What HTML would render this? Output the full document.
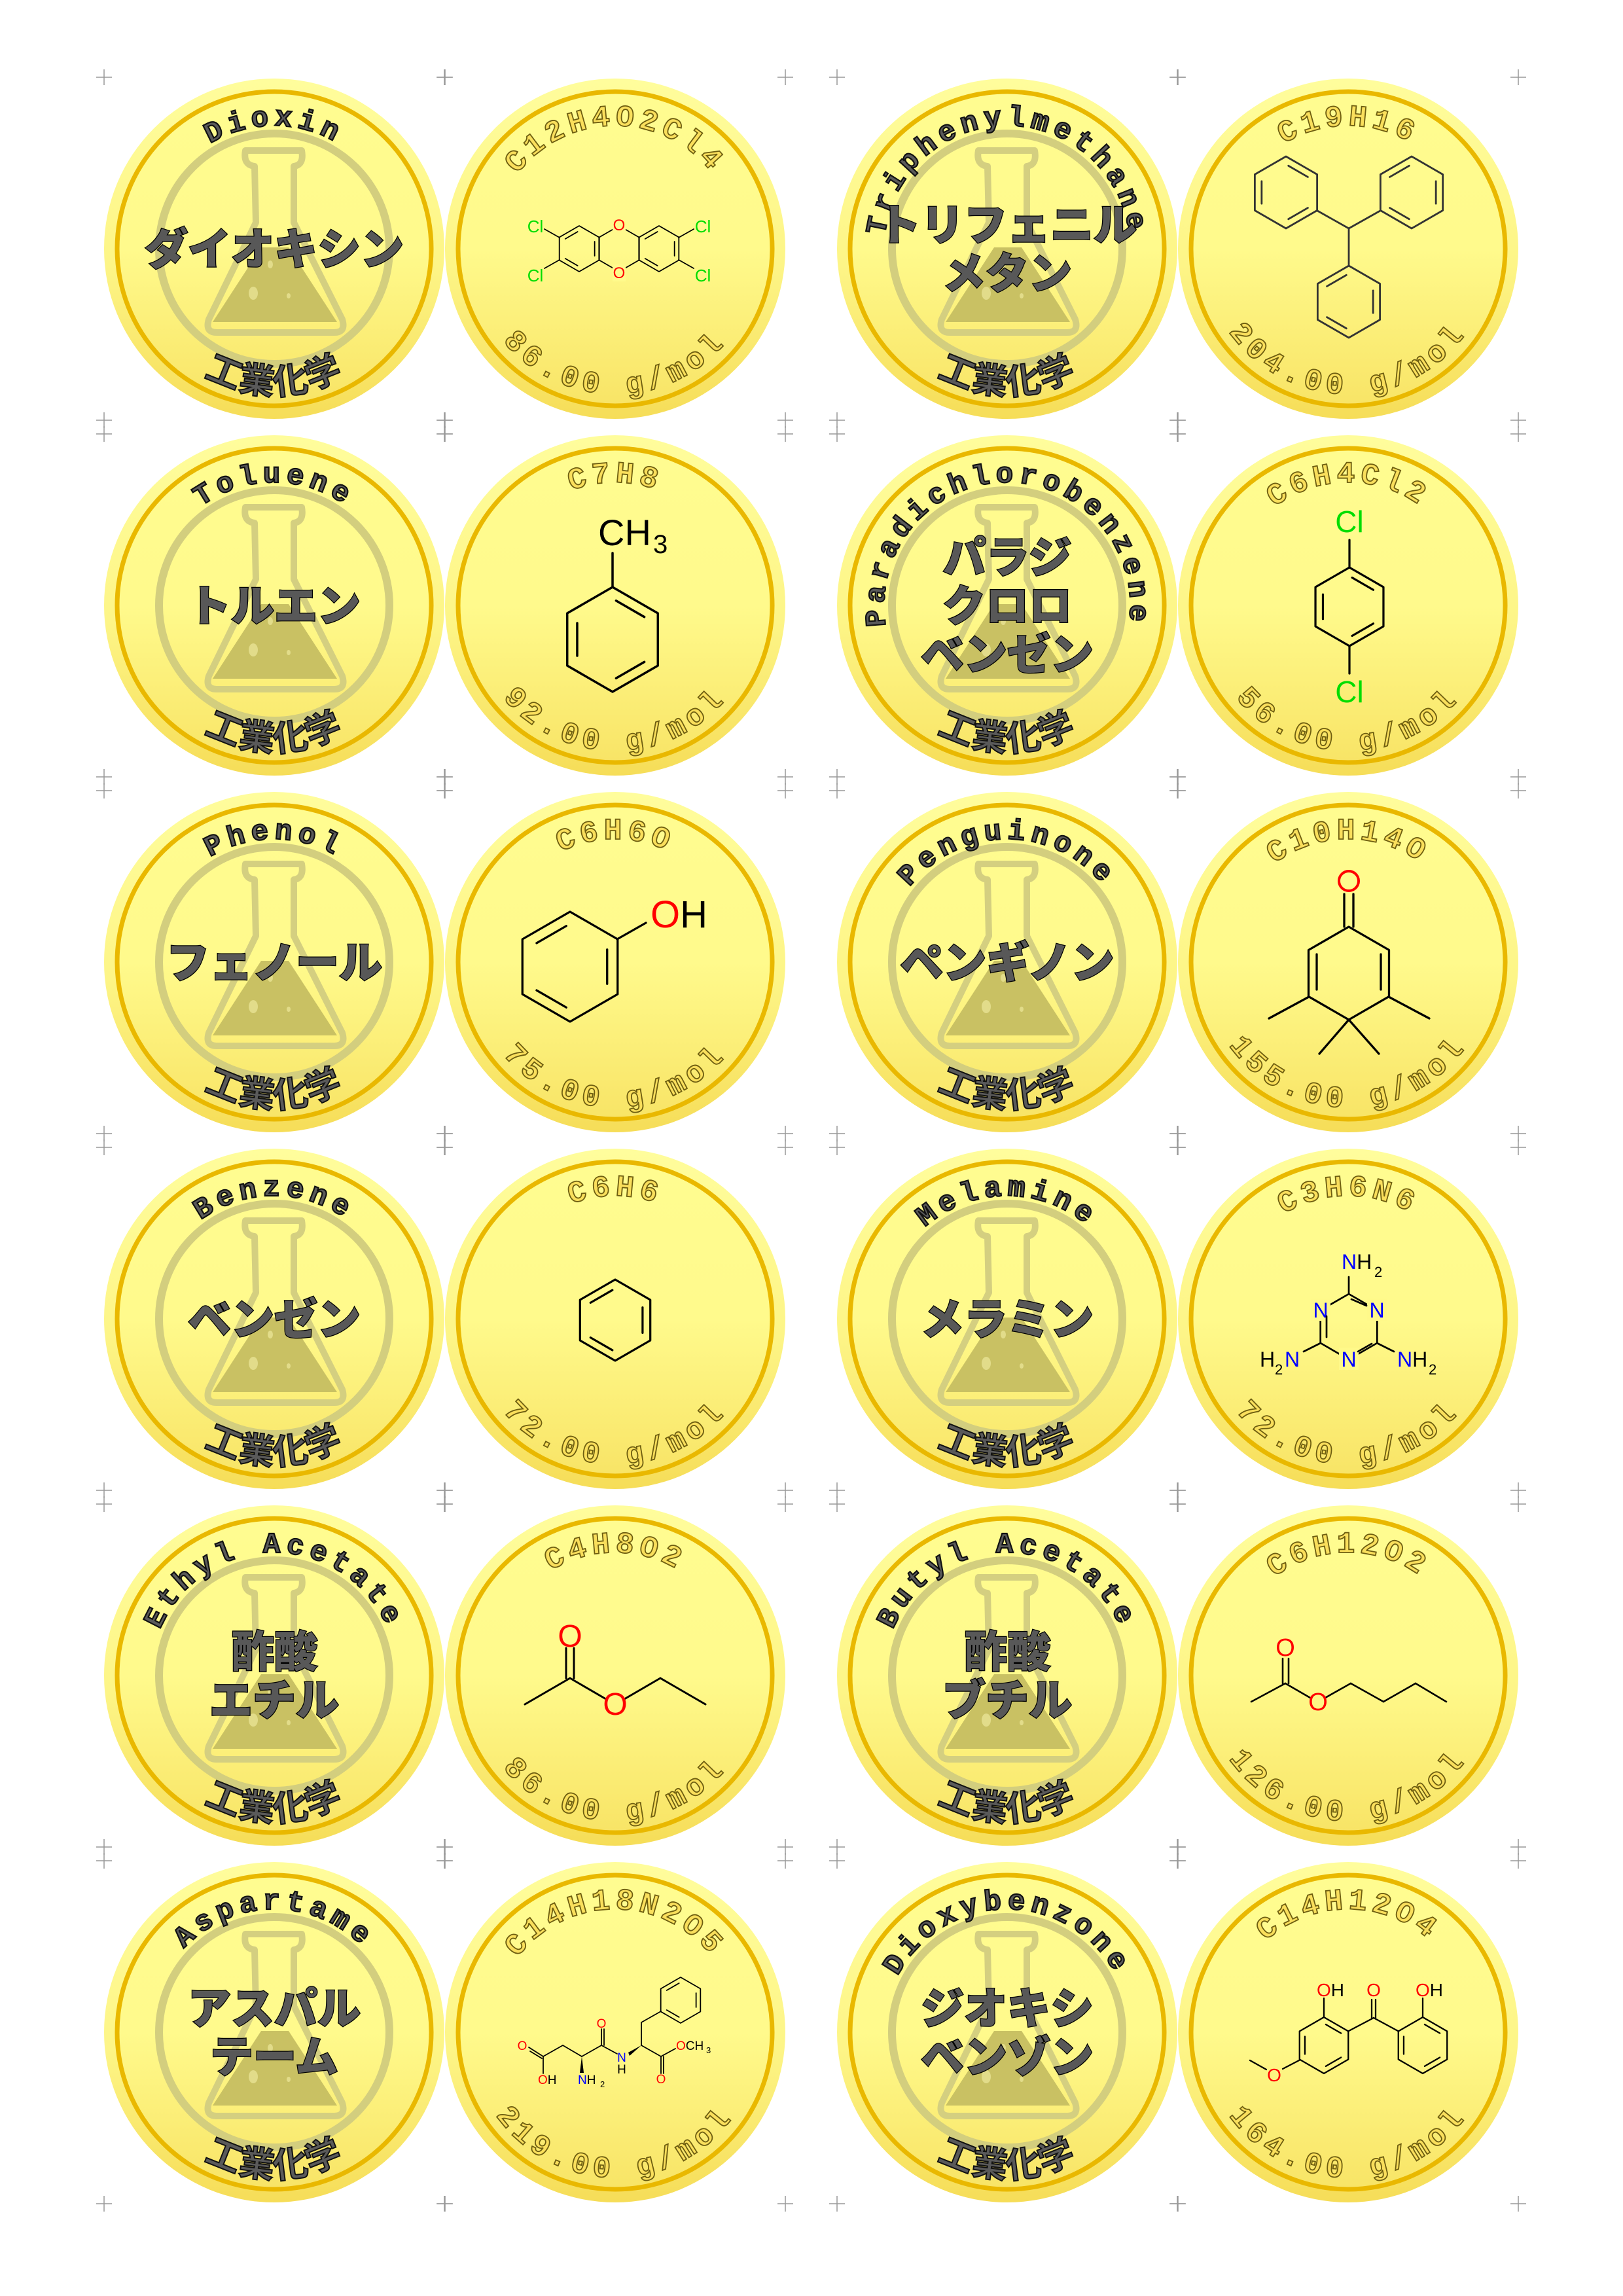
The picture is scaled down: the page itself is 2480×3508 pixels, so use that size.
<!DOCTYPE html>
<html><head><meta charset="utf-8"><style>
html,body{margin:0;padding:0;background:#fff;}
svg{display:block;}
</style></head><body>
<svg id="sheet" width="2480" height="3508" viewBox="0 0 2480 3508" xmlns="http://www.w3.org/2000/svg">
<defs>
<linearGradient id="gOuter" x1="0" y1="0" x2="0" y2="1"><stop offset="0" stop-color="#fffd9c"/><stop offset="0.55" stop-color="#fdf587"/><stop offset="1" stop-color="#f6dd58"/></linearGradient>
<linearGradient id="gInner" x1="0" y1="0" x2="0" y2="1"><stop offset="0" stop-color="#fffc90"/><stop offset="0.5" stop-color="#fffa8c"/><stop offset="1" stop-color="#f8e466"/></linearGradient>
</defs>
<g id="marks"></g>
<g id="coins"></g>
</svg>
<script>
const colX = [419, 940, 1539, 2060];
const rowY = [380, 925, 1470, 2015, 2560, 3105];
const names = ["Dioxin","Triphenylmethane","Toluene","Paradichlorobenzene","Phenol","Penguinone","Benzene","Melamine","Ethyl Acetate","Butyl Acetate","Aspartame","Dioxybenzone"];
const titles = [["ダイオキシン"],["トリフェニル","メタン"],["トルエン"],["パラジ","クロロ","ベンゼン"],["フェノール"],["ペンギノン"],["ベンゼン"],["メラミン"],["酢酸","エチル"],["酢酸","ブチル"],["アスパル","テーム"],["ジオキシ","ベンゾン"]];
const formulas = ["C12H4O2Cl4","C19H16","C7H8","C6H4Cl2","C6H6O","C10H14O","C6H6","C3H6N6","C4H8O2","C6H12O2","C14H18N2O5","C14H12O4"];
const masses = ["86.00","204.00","92.00","56.00","75.00","155.00","72.00","72.00","86.00","126.00","219.00","164.00"];

const R = 260;
let uid = 0;

function ln(x1,y1,x2,y2,w,c){return `<line x1="${x1}" y1="${y1}" x2="${x2}" y2="${y2}" stroke="${c||'#000'}" stroke-width="${w}" stroke-linecap="round"/>`;}
function hex(cx,cy,r,dbl,w,c){
  const v=[];for(let k=0;k<6;k++){const a=(-90+60*k)*Math.PI/180;v.push([cx+r*Math.cos(a),cy+r*Math.sin(a)]);}
  let s=`<polygon points="${v.map(p=>p.join(',')).join(' ')}" fill="none" stroke="${c||'#000'}" stroke-width="${w}" stroke-linejoin="round"/>`;
  (dbl||[]).forEach(k=>{const a=v[k],b=v[(k+1)%6];const f=0.78;
    const ax=cx+(a[0]-cx)*f,ay=cy+(a[1]-cy)*f,bx=cx+(b[0]-cx)*f,by=cy+(b[1]-cy)*f;
    const mx=(ax+bx)/2,my=(ay+by)/2,s2=0.8;
    s+=ln(mx+(ax-mx)*s2,my+(ay-my)*s2,mx+(bx-mx)*s2,my+(by-my)*s2,w,c);});
  return s;
}
function t(x,y,str,size,col,anchor){return `<text x="${x}" y="${y}" font-family="Liberation Sans, sans-serif" font-size="${size}" fill="${col||'#000'}" text-anchor="${anchor||'start'}">${str}</text>`;}

const mol = [
 ()=>{const w=1.8;let s=hex(6,0,35,[],w)+hex(-55,0,35,[1,3,5],w)+hex(67,0,35,[1,3,5],w);
   s+=`<rect x="-4" y="-50" width="20" height="26" fill="#fffa8c"/><rect x="-4" y="24" width="20" height="26" fill="#fffa8c"/>`;
   s+=t(6,-28,'O',24,'#f00','middle')+t(6,45,'O',24,'#f00','middle');
   s+=ln(-85,-17,-108,-30,w)+ln(-85,17,-108,30,w)+ln(97,-17,120,-30,w)+ln(97,17,120,30,w);
   s+=t(-122,-25,'Cl',26,'#0d0','middle')+t(-122,50,'Cl',26,'#0d0','middle')+t(134,-25,'Cl',26,'#0d0','middle')+t(134,50,'Cl',26,'#0d0','middle');return s;},
 ()=>{const w=2.8,c='#333';let s=hex(-95,-86,55,[0,2,4],w,c)+hex(97,-86,55,[1,3,5],w,c)+hex(1,81,55,[1,3,5],w,c);
   s+=ln(1,-31,-47,-58,w,c)+ln(1,-31,49,-58,w,c)+ln(1,-31,1,26,w,c);return s;},
 ()=>{const w=3.5;let s=hex(-4,52,80,[0,2,4],w);s+=ln(-4,-28,-4,-80,w);
   s+=t(-26,-92,'CH',56)+t(58,-80,'3',40);return s;},
 ()=>{const w=3.2;let s=hex(2,2,60,[0,2,4],w);s+=ln(2,-58,2,-100,w)+ln(2,62,2,104,w);
   s+=t(2,-112,'Cl',46,'#0d0','middle')+t(2,148,'Cl',46,'#0d0','middle');return s;},
 ()=>{const w=3.3;let s=hex(-69,7,84,[1,3,5],w);s+=ln(3,-35,47,-60,w);
   s+=t(54,-53,'<tspan fill="#f00">O</tspan>H',58);return s;},
 ()=>{const w=3.3;let s=hex(1,17,71,[],w);
   s+=ln(-6,-54,-6,-104,w)+ln(8,-54,8,-104,w);
   s+=ln(-48,-12,-48,42,w)+ln(50,-12,50,42,w);
   s+=ln(-60,53,-121,86,w)+ln(62,53,124,86,w)+ln(1,88,-44,140,w)+ln(1,88,47,140,w);
   s+=`<ellipse cx="1" cy="-124" rx="15" ry="15" fill="none" stroke="#f00" stroke-width="4"/>`;return s;},
 ()=>{return hex(0,2,62,[1,3,5],3.2);},
 ()=>{const w=2.7;let s=hex(1,12,50,[],w);
   [[-42,-13],[44,-13],[1,62]].forEach(p=>{s+=`<rect x="${p[0]-15}" y="${p[1]-18}" width="30" height="34" fill="#fff98a"/>`;});
   s+=t(-42,-2,'N',32,'#00f','middle')+t(44,-2,'N',32,'#00f','middle')+t(1,73,'N',32,'#00f','middle');
   s+=ln(5,-30,28,-20,w)+ln(-33,-4,-33,28,w)+ln(15,50,36,38,w);
   s+=ln(1,-38,1,-64,w)+ln(-42,37,-68,50,w)+ln(44,37,70,50,w);
   s+=t(-10,-76,'<tspan fill="#00f">N</tspan>H',32)+t(40,-64,'2',22);
   s+=t(-135,73,'H',32)+t(-112,85,'2',22)+t(-97,73,'N',32,'#00f');
   s+=t(75,73,'<tspan fill="#00f">N</tspan>H',32)+t(123,85,'2',22);return s;},
 ()=>{const w=3;let s=ln(-138,44,-69,4,w)+ln(-69,4,-14,36,w)+ln(14,36,69,4,w)+ln(69,4,138,44,w);
   s+=ln(-75,4,-75,-42,w)+ln(-63,4,-63,-42,w);
   s+=t(-69,-44,'O',48,'#f00','middle')+t(0,60,'O',48,'#f00','middle');return s;},
 ()=>{const w=2.6;let s=ln(-148,40,-96,12,w)+ln(-96,12,-58,34,w)+ln(-35,34,4,12,w)+ln(4,12,54,40,w)+ln(54,40,103,12,w)+ln(103,12,150,40,w);
   s+=ln(-100,12,-100,-26,w)+ln(-91,12,-91,-26,w);
   s+=t(-96,-30,'O',38,'#f00','middle')+t(-46,53,'O',38,'#f00','middle');return s;},
 ()=>{const w=1.8;let s='';
   s+=ln(-132,23,-110,37,w)+ln(-130,29,-112,40,w)+ln(-110,37,-80,20,w)+ln(-110,37,-110,63,w);
   s+=ln(-80,20,-51,37,w)+ln(-51,37,-21,20,w)+ln(-21,20,-21,-5,w)+ln(-17,20,-17,-5,w);
   s+=`<polygon points="-51,37 -54,62 -48,62" fill="#000"/>`;
   s+=ln(-21,20,3,33,w)+`<polygon points="40,20 20,31 22,36" fill="#000"/>`;
   s+=ln(40,20,40,-15,w)+ln(40,-15,70,-32,w)+hex(100,-49,35,[1,3,5],w);
   s+=ln(40,20,70,37,w)+ln(70,37,70,63,w)+ln(74,37,74,63,w)+ln(70,37,92,25,w);
   s+=t(-142,27,'O',19,'#f00','middle')+t(-118,79,'<tspan fill="#f00">O</tspan>H',19);
   s+=t(-57,79,'<tspan fill="#00f">N</tspan>H',19)+t(-23,84,'2',13);
   s+=t(-21,-7,'O',19,'#f00','middle')+t(10,45,'N',19,'#00f','middle')+t(10,63,'H',19,'#000','middle');
   s+=t(70,78,'O',19,'#f00','middle')+t(93,27,'<tspan fill="#f00">O</tspan>CH',19)+t(139,32,'3',13);return s;},
 ()=>{const w=2.3;let s=hex(-37,20,43,[0,2,4],w)+hex(114,20,43,[0,2,4],w);
   s+=ln(1,-2,39,-22,w)+ln(39,-22,76,-2,w)+ln(36,-22,36,-50,w)+ln(42,-22,42,-50,w);
   s+=ln(-37,-23,-37,-52,w)+ln(114,-23,114,-52,w);
   s+=ln(-75,43,-100,56,w)+ln(-125,57,-150,43,w);
   s+=t(39,-55,'O',28,'#f00','middle')+t(-48,-55,'<tspan fill="#f00">O</tspan>H',28)+t(103,-55,'<tspan fill="#f00">O</tspan>H',28);
   s+=t(-113,75,'O',28,'#f00','middle');return s;}
];

function coin(i, cx, cy, front){
  const id = (uid++);
  let s = `<g transform="translate(${cx},${cy})">`;
  s += `<circle r="${R}" fill="url(#gOuter)"/>`;
  s += `<circle r="240" fill="url(#gInner)" stroke="#e9b800" stroke-width="7"/>`;
  const rt=188, rb=222;
  s += `<path id="pt${id}" d="M0,${rt} A${rt},${rt} 0 0 1 0,${-rt} A${rt},${rt} 0 0 1 0,${rt}" fill="none"/>`;
  s += `<path id="pb${id}" d="M0,${-rb} A${rb},${rb} 0 0 0 0,${rb} A${rb},${rb} 0 0 0 0,${-rb}" fill="none"/>`;
  if(front){
    s += `<circle r="176" fill="none" stroke="#d3ce7e" stroke-width="12"/>`;
    s += `<path d="M-44,-150 Q-48,-128 -30,-126 L-28,-40 L-100,108 Q-106,128 -88,128 L92,128 Q110,128 104,108 L30,-40 L30,-126 Q46,-128 42,-150 Z" fill="none" stroke="#d4cf80" stroke-width="10" stroke-linejoin="round"/>`;
    s += `<path d="M-20,-2 L22,-2 L96,112 L-94,112 Z" fill="#c9c163"/>`;
    s += `<ellipse cx="-32" cy="68" rx="7" ry="10" fill="#e2dc8a"/><ellipse cx="22" cy="72" rx="3" ry="4" fill="#e2dc8a"/><ellipse cx="-6" cy="24" rx="4" ry="6" fill="#e2dc8a"/>`;
    s += `<text font-family="Liberation Mono, monospace" font-weight="bold" font-size="44" letter-spacing="8" fill="#5a5a5a" stroke="#111" stroke-width="2.2"><textPath href="#pt${id}" startOffset="50%" text-anchor="middle">${names[i]}</textPath></text>`;
    s += `<text font-family="Liberation Sans, 'Noto Sans CJK JP', sans-serif" font-weight="bold" font-size="54" letter-spacing="2" fill="#5a5a5a" stroke="#111" stroke-width="2"><textPath href="#pb${id}" startOffset="50%" text-anchor="middle">工業化学</textPath></text>`;
    const lines = titles[i]; const pitch = 74;
    const y0 = -(lines.length-1)*pitch/2 + 24;
    lines.forEach((l,k)=>{
      s += `<text x="0" y="${y0+k*pitch}" text-anchor="middle" font-family="Liberation Sans, 'Noto Sans CJK JP', sans-serif" font-weight="900" font-size="66" fill="#585858" stroke="#000" stroke-width="2.5" paint-order="stroke">${l}</text>`;
    });
  } else {
    s += `<text font-family="Liberation Mono, monospace" font-weight="bold" font-size="46" letter-spacing="7" fill="#fadf5c" stroke="#6e5e10" stroke-width="1.8"><textPath href="#pt${id}" startOffset="50%" text-anchor="middle">${formulas[i]}</textPath></text>`;
    s += `<text font-family="Liberation Mono, monospace" font-weight="bold" font-size="46" letter-spacing="8" fill="#fadf5c" stroke="#6e5e10" stroke-width="1.8"><textPath href="#pb${id}" startOffset="50%" text-anchor="middle">${masses[i]} g/mol</textPath></text>`;
    s += mol[i]();
  }
  s += `</g>`;
  return s;
}

const coinsG = document.getElementById('coins');
let html = '';
for(let r=0;r<6;r++){
  for(let p=0;p<2;p++){
    const i = r*2+p;
    html += coin(i, colX[p*2], rowY[r], true);
    html += coin(i, colX[p*2+1], rowY[r], false);
  }
}
coinsG.innerHTML = html;
const gs = coinsG.children;
for(let k=0;k<gs.length;k++){
  const i = Math.floor(k/2);
  const el = gs[k];
  
  
}

let m='';
const pts = new Set();
colX.forEach(x=>rowY.forEach(y=>{[-260,260].forEach(dx=>[-262,262].forEach(dy=>pts.add((x+dx)+','+(y+dy))));}));
pts.forEach(p=>{const [x,y]=p.split(',').map(Number);
  m+=`<line x1="${x-12}" y1="${y}" x2="${x+12}" y2="${y}" stroke="#999" stroke-width="1.5"/><line x1="${x}" y1="${y-12}" x2="${x}" y2="${y+12}" stroke="#999" stroke-width="1.5"/>`;});
document.getElementById('marks').innerHTML = m;
</script>
</body></html>
